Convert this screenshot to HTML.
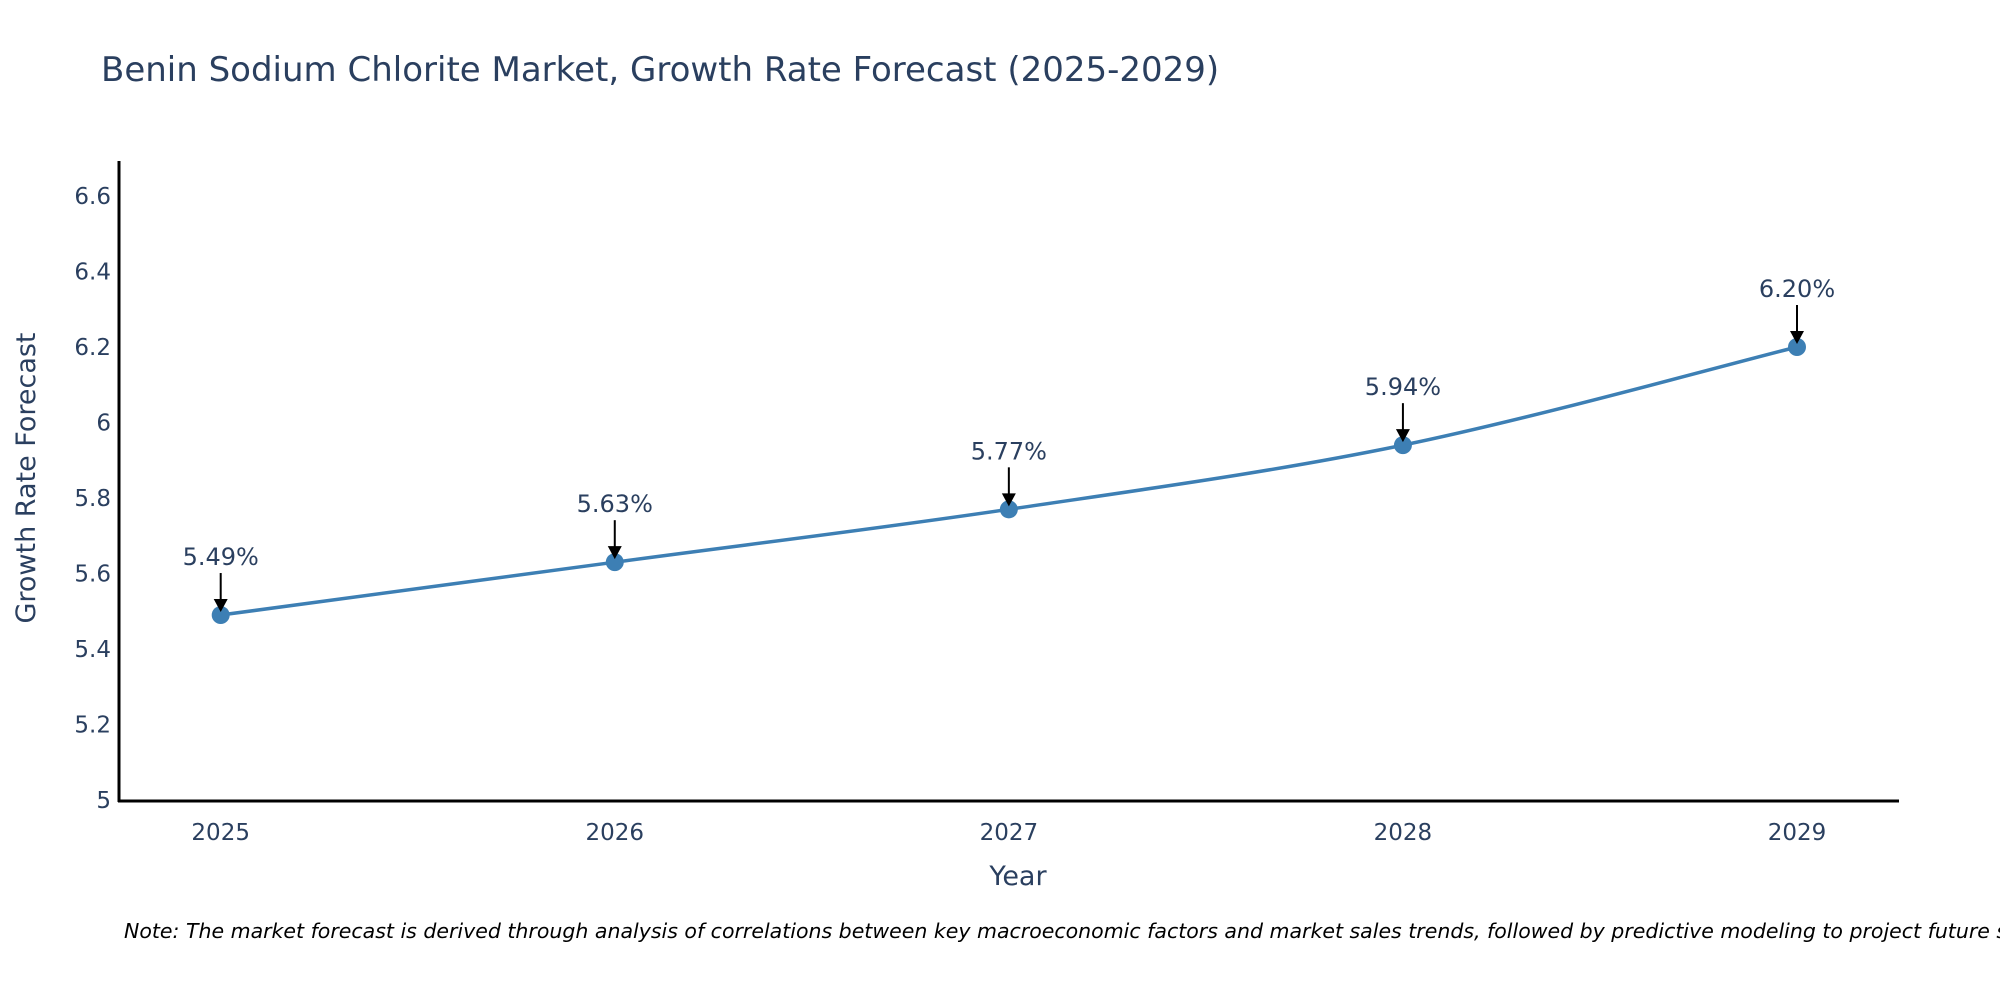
<!DOCTYPE html>
<html><head><meta charset="utf-8">
<style>
html,body{margin:0;padding:0;background:#fff;}
svg{display:block;font-family:"DejaVu Sans","Liberation Sans",sans-serif;}
</style></head>
<body>
<svg id="chart" width="2000" height="1000" viewBox="0 0 2000 1000" xmlns="http://www.w3.org/2000/svg">
<text x="101" y="81" font-size="34" fill="#2a3f5f">Benin Sodium Chlorite Market, Growth Rate Forecast (2025-2029)</text>
<g id="yticks"></g>
<g id="xticks"></g>
<line x1="119" y1="161" x2="119" y2="802" stroke="#000" stroke-width="3"/>
<line x1="118" y1="801" x2="1899" y2="801" stroke="#000" stroke-width="3"/>
<g id="series"></g>
<g id="annots"></g>
<text transform="translate(35,478) rotate(-90)" text-anchor="middle" font-size="27" fill="#2a3f5f">Growth Rate Forecast</text>
<text x="1018" y="885" text-anchor="middle" font-size="27" fill="#2a3f5f">Year</text>
<text x="124" y="938" font-size="20.5" font-style="italic" fill="#000">Note: The market forecast is derived through analysis of correlations between key macroeconomic factors and market sales trends, followed by predictive modeling to project future sales</text>
</svg>
<script>
const years = [2025, 2026, 2027, 2028, 2029];
const values = [5.49, 5.63, 5.77, 5.94, 6.20];
const labels = ["5.49%", "5.63%", "5.77%", "5.94%", "6.20%"];
const yTicks = [5, 5.2, 5.4, 5.6, 5.8, 6, 6.2, 6.4, 6.6];
const yTickLabels = ["5", "5.2", "5.4", "5.6", "5.8", "6", "6.2", "6.4", "6.6"];

const NS = "http://www.w3.org/2000/svg";
function xs(v){ return 220.7 + (v - 2025) * (1797 - 220.7) / 4; }
function ys(v){ return 800 - (v - 5) * (800 - 196) / 1.6; }
function mk(tag, attrs, parent){ const e=document.createElementNS(NS,tag); for(const k in attrs) e.setAttribute(k,attrs[k]); parent.appendChild(e); return e; }

const yg=document.getElementById('yticks');
yTicks.forEach((t,i)=>{
  const el=mk('text',{x:111,y:ys(t)+8,'text-anchor':'end','font-size':23,fill:'#2a3f5f'},yg);
  
  
  el.textContent=yTickLabels[i];
});
const xg=document.getElementById('xticks');
years.forEach(y=>{
  const el=mk('text',{x:xs(y),y:840,'text-anchor':'middle','font-size':23,fill:'#2a3f5f'},xg);
  
  
  el.textContent=String(y);
});

const pts=years.map((y,i)=>[xs(y),ys(values[i])]);
let d=`M${pts[0][0]},${pts[0][1]}`;
for(let i=0;i<pts.length-1;i++){
  const p0=pts[Math.max(0,i-1)],p1=pts[i],p2=pts[i+1],p3=pts[Math.min(pts.length-1,i+2)];
  const t=1/6;
  const c1=[p1[0]+(p2[0]-p0[0])*t,p1[1]+(p2[1]-p0[1])*t];
  const c2=[p2[0]-(p3[0]-p1[0])*t,p2[1]-(p3[1]-p1[1])*t];
  d+=` C${c1[0]},${c1[1]} ${c2[0]},${c2[1]} ${p2[0]},${p2[1]}`;
}
const sg=document.getElementById('series');
const line=mk('path',{d:d,fill:'none',stroke:'#3d7fb4','stroke-width':3.5},sg);


pts.forEach((p,i)=>{
  const c=mk('circle',{cx:p[0],cy:p[1],r:9,fill:'#3d7fb4'},sg);
  
  
});

const ag=document.getElementById('annots');
pts.forEach((p,i)=>{
  const g=mk('g',{},ag);
  
  
  mk('line',{x1:p[0],y1:p[1]-42,x2:p[0],y2:p[1]-14,stroke:'#000','stroke-width':2},g);
  mk('polygon',{points:`${p[0]-7},${p[1]-16} ${p[0]+7},${p[1]-16} ${p[0]},${p[1]-3}`,fill:'#000'},g);
  const t=mk('text',{x:p[0],y:p[1]-50,'text-anchor':'middle','font-size':24,fill:'#2a3f5f'},g);
  t.textContent=labels[i];
});
</script>
</body></html>
